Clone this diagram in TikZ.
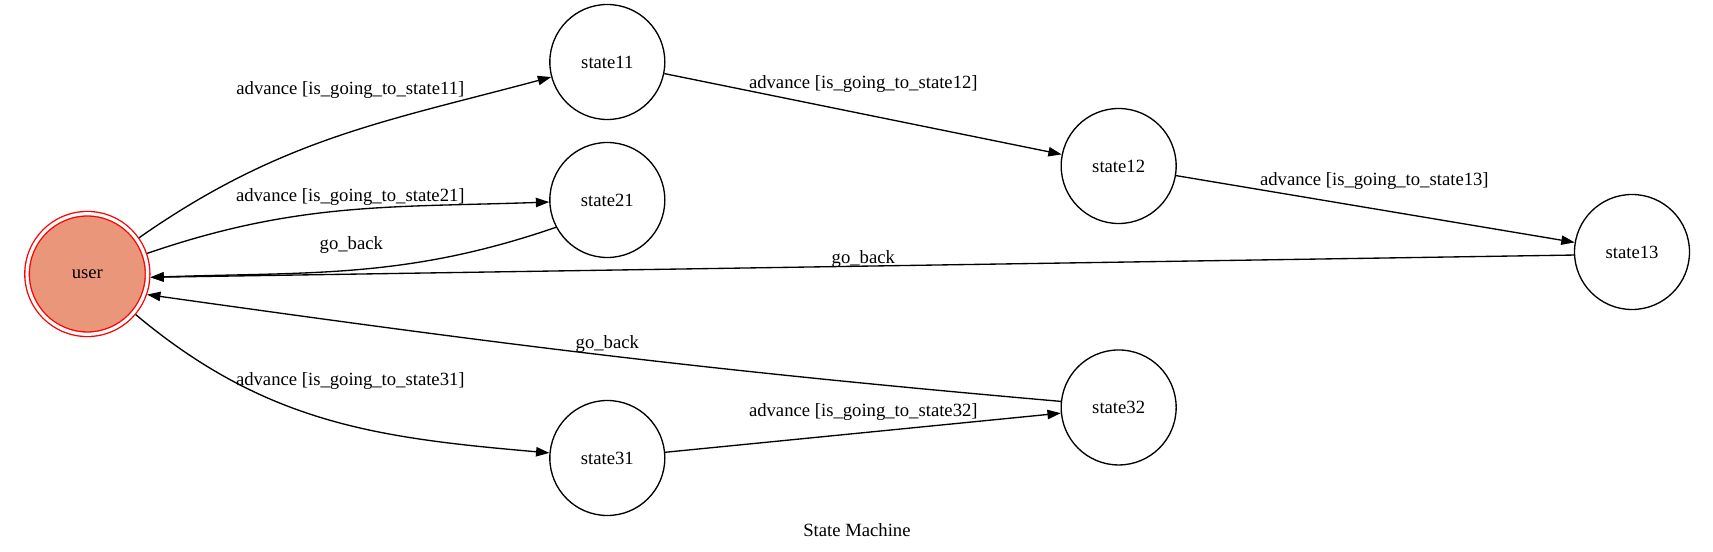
\documentclass[tikz,border=0pt]{standalone}
\usepackage{fontspec}
\setmainfont{Liberation Serif}
\usetikzlibrary{arrows.meta}
\definecolor{darksalmon}{RGB}{233,150,122}
\tikzset{%
  >={Triangle[length=10pt,width=7pt]},
  % Specifications for style of nodes:
            base/.style = {circle, draw=black, line width=1pt,
                           minimum size=86.25pt, inner sep=0pt,
                           text centered, font=\fontsize{14}{16}\selectfont},
        statebox/.style = {base, fill=white},
         userbox/.style = {base, draw=red, fill=darksalmon, double=white,
                           double distance=2.4pt, minimum size=90.4pt,
                           outer sep=2.2pt},
       edgelabel/.style = {inner sep=0pt, font=\fontsize{14}{16}\selectfont},
}

\begin{document}
\begin{tikzpicture}[node distance=385pt, line width=1pt]
  \useasboundingbox (-65.5pt,-208.5pt) rectangle (1219.25pt,205.5pt);
  % Specification of nodes (position, etc.)

  \node (user)        [userbox] {user};
  \node (state11)     [statebox, right of=user, xshift=5pt, yshift=159pt] {state11};
  \node (state21)     [statebox, right of=user, xshift=5pt, yshift=55.5pt] {state21};
  \node (state31)     [statebox, right of=user, xshift=5pt, yshift=-138pt] {state31};
  \node (state12)     [statebox, right of=state11, xshift=-1.5pt, yshift=-78pt] {state12};
  \node (state32)     [statebox, right of=state31, xshift=-1.5pt, yshift=37.9pt] {state32};
  \node (state13)     [statebox, right of=state12, yshift=-64.5pt] {state13};

  \draw[->]           (user) to[out=35,in=195] (state11);
  \draw[->]           (user) to[out=19,in=182] (state21);
  \draw[->]           (user) to[out=-40,in=175] (state31);
  \draw[->]           (state11) -- (state12);
  \draw[->]           (state12) -- (state13);
  \draw[->]           (state31) -- (state32);
  \draw[->]           (state21.208) to[out=199,in=2] (user.-3);
  \draw[->]           (state13.183) -- (user.-3);
  \draw[->]           (state32.174) to[out=175,in=-8] (user.-19);

  \node (lab11)       [edgelabel] at (197.25pt,138pt) {advance [is\_going\_to\_state11]};
  \node (lab21)       [edgelabel] at (197.25pt,57.75pt) {advance [is\_going\_to\_state21]};
  \node (back21)      [edgelabel] at (198pt,21.75pt) {go\_back};
  \node (lab12)       [edgelabel] at (582pt,142.5pt) {advance [is\_going\_to\_state12]};
  \node (lab13)       [edgelabel] at (965.25pt,69.75pt) {advance [is\_going\_to\_state13]};
  \node (back13)      [edgelabel] at (582pt,11.25pt) {go\_back};
  \node (back32)      [edgelabel] at (390pt,-52.5pt) {go\_back};
  \node (lab31)       [edgelabel] at (197.25pt,-80.25pt) {advance [is\_going\_to\_state31]};
  \node (lab32)       [edgelabel] at (582pt,-103.5pt) {advance [is\_going\_to\_state32]};
  \node (title)       [edgelabel] at (577.2pt,-192pt) {State Machine};

\end{tikzpicture}
\end{document}
